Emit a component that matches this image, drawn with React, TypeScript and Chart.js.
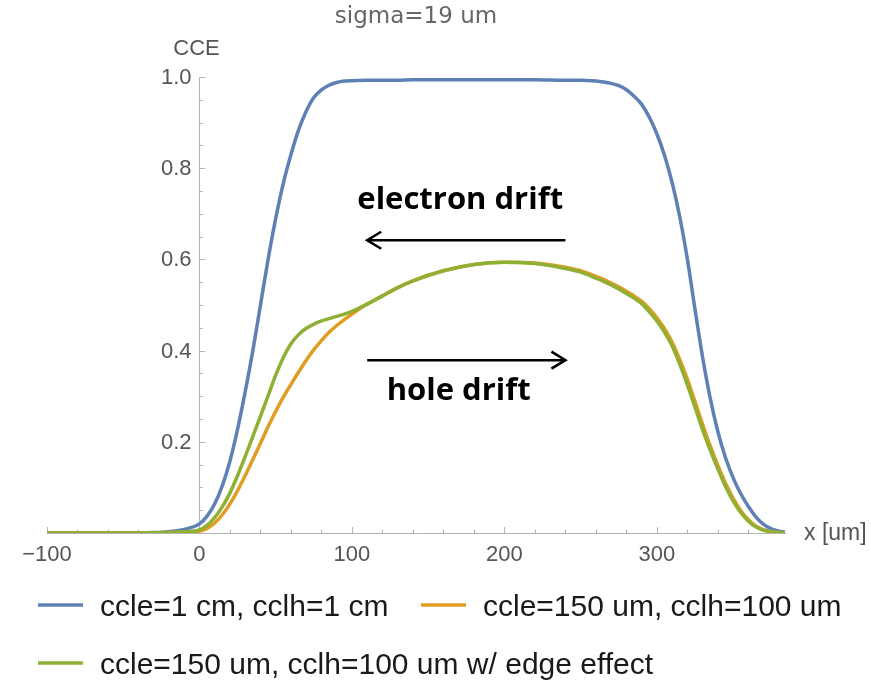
import React, { useEffect, useRef } from 'react';
import { Chart, registerables } from 'chart.js';

Chart.register(...registerables);

// ---- data ----
const xValues = [
  -100, -60, -40, -30, -20, -10, 0, 5, 10, 15, 20, 25, 30, 35, 40, 45, 50, 55, 60, 65, 70, 75, 80, 85, 90, 95,
  100, 110, 120, 130, 140, 160, 180, 200, 220, 240, 250, 260, 265, 270, 275, 280, 285, 290, 295, 300, 305, 310,
  315, 320, 325, 330, 335, 340, 345, 350, 355, 360, 365, 370, 375, 380, 384,
];

const blueValues = [
  0, 0, 0.0005, 0.001, 0.003, 0.008, 0.02, 0.037, 0.064, 0.104, 0.158, 0.228, 0.31, 0.4, 0.5, 0.6, 0.69, 0.767, 0.83, 0.884, 0.925, 0.955, 0.972, 0.982, 0.988, 0.991,
  0.992, 0.993, 0.993, 0.993, 0.994, 0.994, 0.994, 0.994, 0.994, 0.993, 0.993, 0.991, 0.989, 0.986, 0.981, 0.972, 0.958, 0.94, 0.912, 0.875, 0.828, 0.768,
  0.693, 0.6, 0.49, 0.385, 0.295, 0.222, 0.165, 0.121, 0.086, 0.058, 0.035, 0.019, 0.009, 0.004, 0.002,
];

const orangeValues = [
  0, 0, 0, 0.0005, 0.001, 0.002, 0.004, 0.01, 0.022, 0.04, 0.064, 0.093, 0.126, 0.161, 0.197, 0.233, 0.267, 0.298, 0.326, 0.353, 0.379, 0.402, 0.422, 0.44, 0.455, 0.468,
  0.48, 0.502, 0.52, 0.538, 0.553, 0.575, 0.589, 0.594, 0.592, 0.583, 0.575, 0.563, 0.556, 0.548, 0.54, 0.53, 0.52, 0.508, 0.492, 0.472, 0.448, 0.418,
  0.38, 0.337, 0.288, 0.238, 0.191, 0.148, 0.109, 0.076, 0.049, 0.029, 0.015, 0.007, 0.003, 0.001, 0.0005,
];

const greenValues = [
  0, 0, 0, 0.0005, 0.001, 0.003, 0.007, 0.017, 0.034, 0.058, 0.088, 0.126, 0.168, 0.212, 0.256, 0.301, 0.346, 0.385, 0.415, 0.435, 0.449, 0.458, 0.465, 0.47, 0.475, 0.48,
  0.486, 0.502, 0.52, 0.538, 0.553, 0.575, 0.589, 0.594, 0.591, 0.58, 0.572, 0.559, 0.552, 0.544, 0.535, 0.525, 0.515, 0.503, 0.485, 0.465, 0.44, 0.41,
  0.37, 0.325, 0.276, 0.226, 0.181, 0.14, 0.102, 0.07, 0.045, 0.026, 0.013, 0.006, 0.003, 0.001, 0.0005,
];

const seriesLabels = [
  'ccle=1 cm, cclh=1 cm',
  'ccle=150 um, cclh=100 um',
  'ccle=150 um, cclh=100 um w/ edge effect',
];
const seriesColors = ['#5E81B5', '#E19C24', '#8FB032'];

const titleText = 'sigma=19 um';
const yAxisTitle = 'CCE';
const xAxisTitle = 'x [um]';
const xMajorStep = 100;
const xMinorStep = 20;
const yMajorStep = 0.2;
const yMinorStep = 0.05;

// annotation texts with their anchor in data units
const electronText = 'electron drift';
const electronTextAt = { x: 171, y: 0.73 };
const electronArrow = { from: 240, to: 110, y: 0.642 };
const holeText = 'hole drift';
const holeTextAt = { x: 170, y: 0.31 };
const holeArrow = { from: 110, to: 240, y: 0.379 };

// ---- styles ----
const AXIS_COLOR = '#b4b4b4';
const TICK_TEXT = '#555555';
const SANS = '"Liberation Sans", Arial, sans-serif';

const isMultiple = (v: number, step: number) => Math.abs(v / step - Math.round(v / step)) < 1e-6;
const yLabel = (n: number) => (n < 1e-9 || !isMultiple(n, yMajorStep) ? '' : n.toFixed(1));

const overlayPlugin = {
  id: 'overlay',
  beforeDatasetsDraw(chart: any) {
    const { ctx } = chart;
    const xs = chart.scales.x;
    const ys = chart.scales.y;
    const y0 = ys.getPixelForValue(0);
    const x0 = xs.getPixelForValue(0);
    ctx.save();
    ctx.strokeStyle = AXIS_COLOR;
    ctx.lineWidth = 1;
    xs.ticks.forEach((t: any) => {
      if (Math.abs(t.value) < 1e-9) return;
      const px = Math.round(xs.getPixelForValue(t.value)) + 0.5;
      const len = isMultiple(t.value, xMajorStep) ? 6 : 3.5;
      ctx.beginPath();
      ctx.moveTo(px, y0);
      ctx.lineTo(px, y0 - len);
      ctx.stroke();
    });
    ys.ticks.forEach((t: any) => {
      if (Math.abs(t.value) < 1e-9) return;
      const py = Math.round(ys.getPixelForValue(t.value)) + 0.5;
      const len = isMultiple(t.value, yMajorStep) ? 6 : 3.5;
      ctx.beginPath();
      ctx.moveTo(x0, py);
      ctx.lineTo(x0 + len, py);
      ctx.stroke();
    });
    // y tick labels, placed left of the axis that sits at x = 0
    ctx.fillStyle = TICK_TEXT;
    ctx.font = `22px ${SANS}`;
    ctx.textAlign = 'right';
    ctx.textBaseline = 'middle';
    ys.ticks.forEach((t: any) => {
      const lab = yLabel(t.value);
      if (!lab) return;
      ctx.fillText(lab, x0 - 8, ys.getPixelForValue(t.value) + 1);
    });
    ctx.restore();
  },
  afterDraw(chart: any) {
    const { ctx } = chart;
    const xs = chart.scales.x;
    const ys = chart.scales.y;
    ctx.save();
    // axis titles
    ctx.fillStyle = TICK_TEXT;
    ctx.font = `22px ${SANS}`;
    ctx.textAlign = 'center';
    ctx.textBaseline = 'middle';
    ctx.fillText(yAxisTitle, xs.getPixelForValue(0) - 3, ys.getPixelForValue(1) - 28);
    ctx.font = `23px ${SANS}`;
    ctx.textAlign = 'left';
    ctx.fillText(xAxisTitle, xs.right + 19, ys.getPixelForValue(0) + 1);

    // annotations
    ctx.fillStyle = '#000';
    ctx.strokeStyle = '#000';
    ctx.font = `bold 31px "Open Sans", "DejaVu Sans", sans-serif`;
    ctx.textAlign = 'center';
    ctx.fillText(electronText, xs.getPixelForValue(electronTextAt.x), ys.getPixelForValue(electronTextAt.y));
    ctx.fillText(holeText, xs.getPixelForValue(holeTextAt.x), ys.getPixelForValue(holeTextAt.y));
    const drawArrow = (a: { from: number; to: number; y: number }) => {
      const x1 = xs.getPixelForValue(a.from);
      const x2 = xs.getPixelForValue(a.to);
      const py = ys.getPixelForValue(a.y);
      const dir = x2 > x1 ? 1 : -1;
      ctx.lineWidth = 2.6;
      ctx.lineCap = 'butt';
      ctx.beginPath();
      ctx.moveTo(x1, py);
      ctx.lineTo(x2, py);
      ctx.stroke();
      ctx.lineJoin = 'miter';
      ctx.beginPath();
      ctx.moveTo(x2 - dir * 14, py - 8.5);
      ctx.lineTo(x2, py);
      ctx.lineTo(x2 - dir * 14, py + 8.5);
      ctx.stroke();
    };
    drawArrow(electronArrow);
    drawArrow(holeArrow);

    // legend
    const legendSpots = [
      { x: 38, y: 605 },
      { x: 421, y: 605 },
      { x: 38, y: 663 },
    ];
    ctx.font = `30px ${SANS}`;
    ctx.textAlign = 'left';
    ctx.textBaseline = 'alphabetic';
    chart.data.datasets.forEach((ds: any, i: number) => {
      const s = legendSpots[i];
      ctx.strokeStyle = ds.borderColor;
      ctx.lineWidth = 3.5;
      ctx.beginPath();
      ctx.moveTo(s.x, s.y);
      ctx.lineTo(s.x + 45, s.y);
      ctx.stroke();
      ctx.fillStyle = '#1a1a1a';
      ctx.fillText(ds.label, s.x + 62, s.y + 11);
    });
    ctx.restore();
  },
};

export default function App() {
  const canvasRef = useRef<HTMLCanvasElement | null>(null);

  useEffect(() => {
    document.body.style.margin = '0';
    const canvas = canvasRef.current;
    if (!canvas) return;
    const datasets = [blueValues, orangeValues, greenValues].map((vals, i) => ({
      label: seriesLabels[i],
      data: xValues.map((x, j) => ({ x, y: vals[j] })),
      borderColor: seriesColors[i],
      backgroundColor: seriesColors[i],
      borderWidth: 3.5,
      pointRadius: 0,
      fill: false,
      order: 2 - i, // later series painted on top, as in the reference
      cubicInterpolationMode: 'monotone' as const,
    }));
    const chart = new Chart(canvas, {
      type: 'line',
      data: { datasets },
      plugins: [overlayPlugin],
      options: {
        animation: false,
        responsive: false,
        devicePixelRatio: 1,
        layout: { padding: { left: 47, right: 86, top: 0, bottom: 148 } },
        plugins: {
          legend: { display: false },
          tooltip: { enabled: false },
          title: {
            display: true,
            text: titleText,
            color: '#666666',
            font: { family: '"DejaVu Sans", sans-serif', size: 23, weight: 'normal' },
            padding: { top: 3, bottom: 46.4 },
          },
        },
        scales: {
          x: {
            type: 'linear',
            position: { y: 0 } as any,
            min: -100,
            max: 384,
            grid: { display: false },
            border: { display: true, color: AXIS_COLOR, width: 1 },
            ticks: {
              stepSize: xMinorStep,
              includeBounds: false,
              autoSkip: false,
              maxRotation: 0,
              padding: 1,
              color: TICK_TEXT,
              font: { family: SANS, size: 22 },
              callback: (v: any) => {
                const n = Number(v);
                if (!isMultiple(n, xMajorStep)) return '';
                return n < 0 ? '\u2212' + Math.abs(n) : String(n);
              },
            },
          },
          y: {
            type: 'linear',
            position: { x: 0 } as any,
            min: 0,
            max: 1,
            grid: { display: false },
            border: { display: true, color: AXIS_COLOR, width: 1 },
            ticks: {
              display: false,
              stepSize: yMinorStep,
              autoSkip: false,
              callback: (v: any) => yLabel(Number(v)),
            },
          },
        },
      } as any,
    });
    return () => chart.destroy();
  }, []);

  return (
    <div style={{ width: 871, height: 681, background: '#fff' }}>
      <canvas ref={canvasRef} width={871} height={681} style={{ display: 'block' }} />
    </div>
  );
}
